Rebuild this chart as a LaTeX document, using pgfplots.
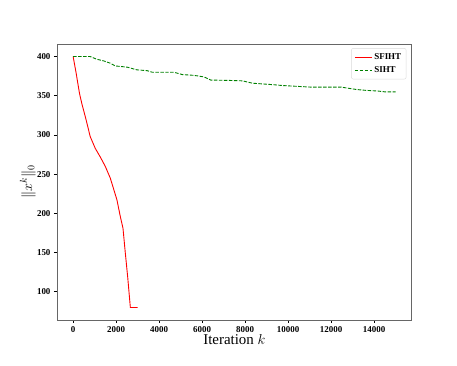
\documentclass[border=0pt]{standalone}
\usepackage{pgfplots}
\pgfplotsset{compat=1.18}
\usepackage{fontspec}
\setmainfont{Liberation Serif}
\definecolor{mplgreen}{RGB}{0,128,0}
\definecolor{mplred}{RGB}{255,0,0}
\begin{document}
\begin{tikzpicture}
\path (-57bp,-46bp) rectangle (400bp,320bp);
\begin{axis}[
  at={(0,0)}, anchor=south west,
  width=354.7bp, height=276bp, scale only axis,
  xmin=-750, xmax=15750, ymin=64, ymax=416,
  xtick={0,2000,...,14000}, ytick={100,150,...,400},
  scaled ticks=false,
  /pgf/number format/assume math mode=true,
  /pgf/number format/1000 sep={},
  tick label style={font=\fontsize{9}{10}\selectfont\bfseries},
  tick align=outside, major tick length=3bp,
  xtick pos=bottom, ytick pos=left,
  axis line style={gray!80!black, line width=0.8pt},
  tick style={black, line width=0.6pt},
  xlabel={Iteration $k$},
  ylabel={$\Vert x^{k}\Vert_{0}$},
  xlabel style={font=\fontsize{15}{17}\selectfont, at={(axis description cs:0.5,-0.072)}, anchor=center},
  ylabel style={font=\fontsize{14}{16}\selectfont, at={(axis description cs:-0.082,0.5)}, anchor=center},
  legend style={font=\fontsize{9}{10}\selectfont\bfseries, draw=gray!30, rounded corners=2pt,
    row sep=2pt, inner sep=3pt, at={(0.985,0.985)}, anchor=north east},
  legend cell align=left,
]
\addplot[color=mplred, line width=0.9pt] coordinates {
(0,400) (140,379) (296,353) (405,340) (607,319) (794,298) (1028,283) (1261,272)
(1495,260) (1573,255) (1728,245) (1807,238) (2040,217) (2195,196) (2320,181)
(2429,149) (2538,119) (2662,80) (3000,80)};
\addlegendentry{SFIHT}
\addplot[color=mplgreen, line width=0.9pt, dash pattern=on 3.5pt off 1.5pt] coordinates {
(0,400) (794,400) (1106,396.5) (1417,394.5) (1728,391.5) (1962,388) (2507,386.5)
(2974,383) (3441,382) (3676,380) (4688,380) (5078,377) (5623,376) (6090,374) (6401,370)
(7333,369.5) (7878,369) (8345,366) (9357,364) (9747,363) (11069,361) (12471,361)
(12704,360) (13171,358) (13560,357) (14184,356) (14495,355) (15000,355)};
\addlegendentry{SIHT}
\end{axis}
\end{tikzpicture}
\end{document}
